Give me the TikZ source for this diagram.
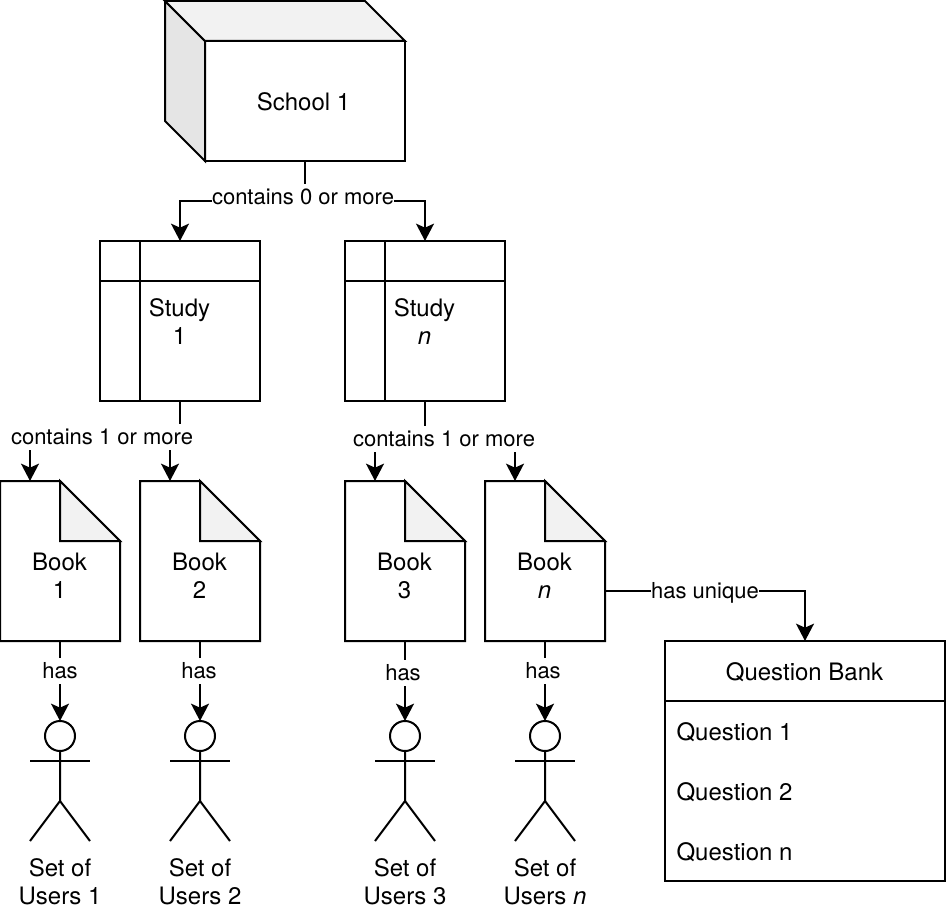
\documentclass[tikz,border=0pt]{standalone}
\usepackage{fontspec}
\setmainfont{TeX Gyre Heros}
\usetikzlibrary{arrows.meta}
\tikzset{
    >={Stealth[length=13pt,width=13.5pt,inset=3pt]},
    every path/.style={line width=1.5pt,line join=miter},
    nodetext/.style={font=\fontsize{18}{21}\selectfont,align=center,inner sep=0pt},
    edgelabel/.style={font=\fontsize{16.5}{19}\selectfont,fill=white,inner xsep=0pt,inner ysep=0pt,minimum height=19.5pt},
    schoolbox/.style={draw,outer sep=0pt,minimum width=150pt,minimum height=90pt},
    studybox/.style={draw,outer sep=0pt,minimum width=120pt,minimum height=120pt},
    bookbox/.style={outer sep=0pt,inner sep=0pt,minimum width=90pt,minimum height=120pt},
    headnode/.style={draw,circle,outer sep=0pt,inner sep=0pt,minimum size=22.5pt},
    bankbox/.style={draw,outer sep=0pt,minimum width=210pt,minimum height=180pt},
}
\begin{document}
\begin{tikzpicture}[x=.75pt,y=-.75pt]
    \useasboundingbox (0,0) rectangle (948,912);
    % school
    \node [schoolbox] (school) at (305,101) {};
    \draw [fill=black!10] (school.north west) -- ++(-40,-40) -- ++(0,120) -- (school.south west) -- cycle;
    \draw [fill=black!5] (school.north west) -- ++(-40,-40) -- ++(200,0) -- (school.north east) -- cycle;
    \node [nodetext] (schooltxt) at (303.5,102) {School 1};
    % studies
    \foreach \name/\cx/\num in {study1/180/1,studyn/425/\textit{n}}{
        \node [studybox] (\name) at (\cx,321) {};
        \draw (\name.north west) ++(40,0) -- ++(0,160);
        \draw (\name.north west) ++(0,40) -- ++(160,0);
        \node [nodetext] (\name txt) at (\cx-.5,322) {Study\\\num};
    }
    % books
    \foreach \name/\cx/\num in {book1/60/1,book2/200/2,book3/405/3,bookn/545/\textit{n}}{
        \node [bookbox] (\name) at (\cx,561) {};
        \draw (\name.north west) -- ++(60,0) -- ++(60,60) -- (\name.south east) -- (\name.south west) -- cycle;
        \draw [fill=black!5] (\name.north) -- ++(0,60) -- ++(60,0) -- cycle;
        \coordinate (\name top) at ([xshift=-22.5pt]\name.north);
        \node [nodetext] (\name txt) at (\cx-.5,576) {Book\\\num};
    }
    % users
    \foreach \name/\cx/\num in {user1/60/1,user2/200/2,user3/405/3,usern/545/\textit{n}}{
        \node [headnode] (\name) at (\cx,736) {};
        \draw (\name.south) -- ++(0,50) -- ++(-30,40);
        \draw (\name.south) ++(0,50) -- ++(30,40);
        \draw (\name.south) ++(-30,10) -- ++(60,0);
        \node [nodetext] (\name txt) at (\cx,882) {Set of\\Users \num};
    }
    % question bank
    \node [bankbox] (bank) at (805,761) {};
    \draw (bank.north west) ++(0,60) -- ++(280,0);
    \node [nodetext] (bankhead) at (804.5,672) {Question Bank};
    \node [nodetext,anchor=west] (q1) at (675.5,732) {Question 1};
    \node [nodetext,anchor=west] (q2) at (675.5,792) {Question 2};
    \node [nodetext,anchor=west] (qn) at (675.5,852) {Question n};
    % connectors
    \coordinate (split0) at (305,201);
    \coordinate (split1) at (180,441);
    \coordinate (split2) at (425,443);
    \coordinate (bookout) at (805,591);
    \coordinate (bookside) at (605,591);
    \draw [->] (school.south) -- (split0) -| (study1.north);
    \draw [->] (split0) -| (studyn.north);
    \draw [->] (study1.south) -- (split1) -| (book1top);
    \draw [->] (split1) -| (book2top);
    \draw [->] (studyn.south) -- (split2) -| (book3top);
    \draw [->] (split2) -| (bookntop);
    \draw [->] (book1.south) -- (user1.north);
    \draw [->] (book2.south) -- (user2.north);
    \draw [->] (book3.south) -- (user3.north);
    \draw [->] (bookn.south) -- (usern.north);
    \draw [->] (bookside) -- (bookout) -- (bank.north);
    % labels
    \node [edgelabel] (lab0) at (303,197) {contains 0 or more};
    \node [edgelabel] (lab1) at (102,437) {contains 1 or more};
    \node [edgelabel] (lab2) at (444,439) {contains 1 or more};
    \node [edgelabel] (has1) at (60,671) {has};
    \node [edgelabel] (has2) at (199,671) {has};
    \node [edgelabel] (has3) at (403,673) {has};
    \node [edgelabel] (hasn) at (543,671) {has};
    \node [edgelabel] (unique) at (705,592.5) {has unique};
\end{tikzpicture}
\end{document}
